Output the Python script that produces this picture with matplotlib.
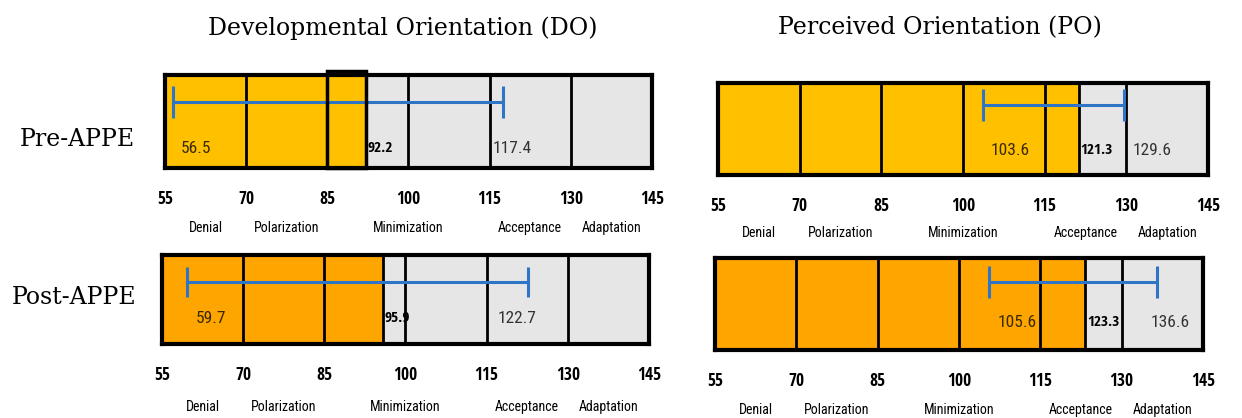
import numpy as np
import matplotlib.pyplot as plt
from matplotlib.patches import Rectangle

# scale bands
band_edges = [55, 70, 85, 100, 115, 130, 145]
stage_names = ['Denial', 'Polarization', 'Minimization', 'Acceptance', 'Adaptation']
stage_mid = [62.5, 77.5, 100, 122.5, 137.5]

# low / mean / high per panel (DO pre, PO pre, DO post, PO post)
low_vals = [56.5, 103.6, 59.7, 105.6]
mean_vals = [92.2, 121.3, 95.9, 123.3]
high_vals = [117.4, 129.6, 122.7, 136.6]

col_titles = ['Developmental Orientation (DO)', 'Perceived Orientation (PO)']
row_titles = ['Pre-APPE', 'Post-APPE']
fill_cols = ['#FFC000', '#FFC000', '#FFA500', '#FFA500']

W, H = 1242, 418
# panel boxes in pixels: left, right, top, bottom
boxes = [(165, 652, 75, 168), (718, 1208, 83, 175),
         (162, 649, 255, 344), (715, 1203, 258, 350)]
# label layout per panel
bar_y = [0.71, 0.76, 0.70, 0.74]
lab_y = [0.21, 0.27, 0.29, 0.30]
hi_shift = [-1.8, 1.6, -2.0, 2.3]
hi_ha = ['left', 'left', 'center', 'center']
cat_y = [-0.64, -0.63, -0.71, -0.65]

bold_narrow = ['Open Sans Condensed', 'Roboto Condensed', 'DejaVu Sans']
narrow = ['Roboto Condensed', 'DejaVu Sans']
serif = ['DejaVu Serif']

fig = plt.figure(figsize=(W / 100, H / 100), dpi=100)
fig.patch.set_facecolor('white')

for i in range(4):
    l, r, t, b = boxes[i]
    ax = fig.add_axes([l / W, 1 - b / H, (r - l) / W, (b - t) / H])
    ax.set_xlim(55, 145)
    ax.set_ylim(0, 1)
    ax.barh(0.5, 90, left=55, height=1, color='#E7E6E6')
    ax.barh(0.5, mean_vals[i] - 55, left=55, height=1, color=fill_cols[i])
    for e in band_edges[1:-1] + [mean_vals[i]]:
        ax.axvline(e, color='black', lw=2)
    for s in ax.spines.values():
        s.set_linewidth(3)
    if i == 0:
        # the odd heavier outline on the last filled piece
        ax.add_patch(Rectangle((85, 0.0), mean_vals[i] - 85, 1.04, fill=False,
                               ec='black', lw=2.5, clip_on=False, zorder=3))
    # range bar
    y = bar_y[i]
    ax.hlines(y, low_vals[i], high_vals[i], color='#2E75C6', lw=2.2)
    ax.vlines([low_vals[i], high_vals[i]], y - 0.17, y + 0.17, color='#2E75C6', lw=2.2)
    ty = lab_y[i]
    ax.text(low_vals[i] + 1.5, ty, f'{low_vals[i]:.1f}', ha='left', va='center',
            fontsize=12.5, color='#3a2a00', family=narrow)
    ax.text(mean_vals[i] + 0.3, ty, f'{mean_vals[i]:.1f}', ha='left', va='center',
            fontsize=11, fontweight='bold', color='black', family=bold_narrow, zorder=5)
    ax.text(high_vals[i] + hi_shift[i], ty, f'{high_vals[i]:.1f}', ha=hi_ha[i],
            va='center', fontsize=12.5, color='#333333', family=narrow)
    ax.set_xticks(band_edges)
    ax.set_xticklabels([str(v) for v in band_edges], fontsize=12.5, fontweight='bold',
                       family=bold_narrow)
    ax.tick_params(axis='x', length=0, pad=16)
    ax.set_yticks([])
    for xm, nm in zip(stage_mid, stage_names):
        ax.text(xm, cat_y[i], nm, ha='center', va='center',
                fontsize=10, transform=ax.get_xaxis_transform(), family=narrow)

fig.text(403 / W, 1 - 28 / H, col_titles[0], ha='center', va='center', fontsize=17,
         family=serif)
fig.text(940 / W, 1 - 28 / H, col_titles[1], ha='center', va='center', fontsize=17,
         family=serif)
fig.text(77 / W, 1 - 140 / H, row_titles[0], ha='center', va='center', fontsize=17,
         family=serif)
fig.text(74 / W, 1 - 298 / H, row_titles[1], ha='center', va='center', fontsize=17,
         family=serif)

fig.savefig('out.png', dpi=100)
